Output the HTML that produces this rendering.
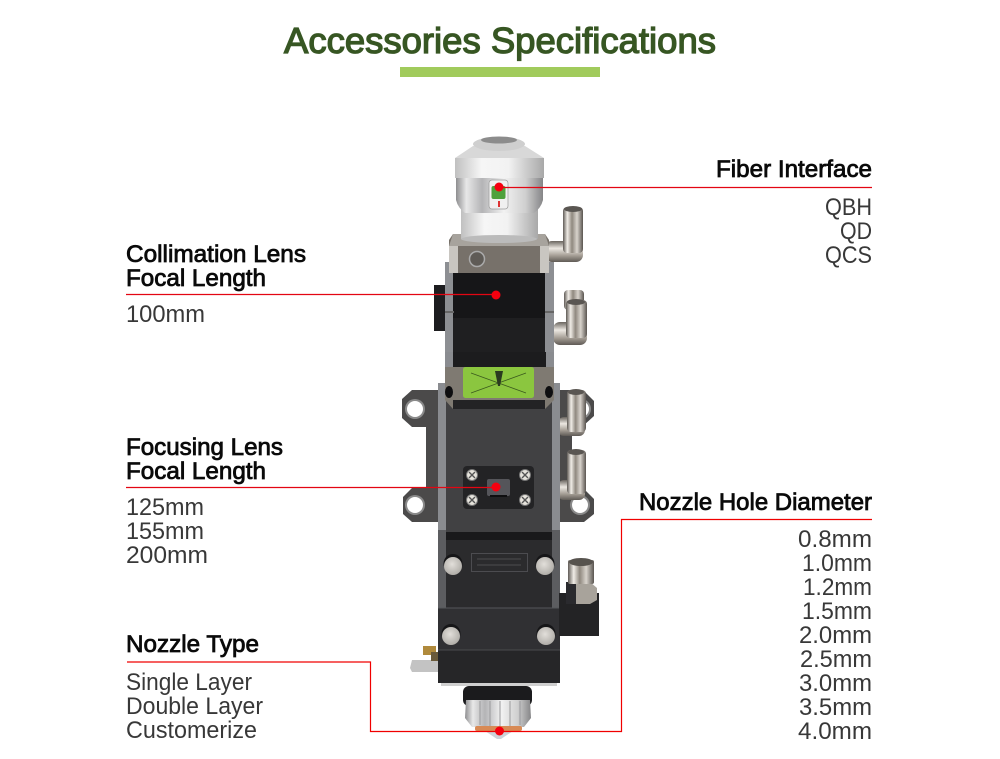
<!DOCTYPE html>
<html lang="en"><head><meta charset="utf-8"><title>Accessories Specifications</title>
<style>
html,body{margin:0;padding:0;background:#fff;width:1000px;height:759px;overflow:hidden}
svg{display:block}
text{font-family:"Liberation Sans",sans-serif}
.t{font-size:36px;fill:#375623;stroke:#375623;stroke-width:1.300px}
.h{font-size:24px;fill:#0a0a0a;stroke:#0a0a0a;stroke-width:.8px}
.b{font-size:24px;fill:#383838}
</style></head><body>
<svg width="1000" height="759" viewBox="0 0 1000 759" xmlns="http://www.w3.org/2000/svg">
<defs>
<linearGradient id="sil" x1="0" x2="1" y1="0" y2="0">
<stop offset="0" stop-color="#8e8e90"/><stop offset=".12" stop-color="#e8e8e8"/><stop offset=".3" stop-color="#b4b4b6"/><stop offset=".55" stop-color="#f2f2f2"/><stop offset=".8" stop-color="#cfcfcf"/><stop offset="1" stop-color="#858587"/></linearGradient>
<linearGradient id="sil2" x1="0" x2="1" y1="0" y2="0">
<stop offset="0" stop-color="#c0c0c0"/><stop offset=".3" stop-color="#f6f6f6"/><stop offset=".6" stop-color="#f2f2f2"/><stop offset="1" stop-color="#a8a8a8"/></linearGradient>
<linearGradient id="chr" x1="0" x2="1" y1="0" y2="0">
<stop offset="0" stop-color="#5f5a55"/><stop offset=".22" stop-color="#f0ece6"/><stop offset=".45" stop-color="#8f887f"/><stop offset=".7" stop-color="#d8d3cc"/><stop offset="1" stop-color="#5a5550"/></linearGradient>
<linearGradient id="chrv" x1="0" x2="0" y1="0" y2="1">
<stop offset="0" stop-color="#6a655f"/><stop offset=".35" stop-color="#ece8e2"/><stop offset=".7" stop-color="#a49d94"/><stop offset="1" stop-color="#5f5a55"/></linearGradient>
<radialGradient id="scr" cx=".45" cy=".4" r=".7"><stop offset="0" stop-color="#e2dfda"/><stop offset="1" stop-color="#a8a5a0"/></radialGradient>
<g id="screw"><circle cx="0" cy="-2.500" r="9.500" fill="#161618"/><circle r="9" fill="url(#scr)"/></g>
<g id="mini"><circle r="5.500" fill="#e6e3dc" stroke="#777" stroke-width="1"/><path d="M-3-3L3 3M3-3L-3 3" stroke="#555" stroke-width="1.400"/></g>
<g id="hole"><circle r="10" fill="#8a8a8a"/><circle r="8" fill="#fff"/></g>
</defs>
<rect width="1000" height="759" fill="#fff"/>

<!-- Title -->
<text class="t" x="284" y="53" textLength="432" lengthAdjust="spacingAndGlyphs">Accessories Specifications</text>
<rect x="400" y="67" width="200" height="10" fill="#a1cb5c"/>

<!-- Brackets -->
<path d="M412 390H440V522H412L403 514V497L412 488H426V427H412L402 418V399Z" fill="#4b4a4a"/>
<path d="M556 390H583L594 401V416L583 426H572V488H583L594 499V514L584 522H556Z" fill="#4b4a4a"/>
<use href="#hole" x="415" y="409"/><use href="#hole" x="415" y="505"/><use href="#hole" x="580" y="505"/><use href="#hole" x="581" y="409"/>

<!-- Fittings right -->
<rect x="545" y="241" width="38" height="21" rx="7" fill="url(#chrv)"/>
<rect x="563" y="207" width="20" height="46" rx="4" fill="url(#chr)"/>
<ellipse cx="573" cy="209" rx="9" ry="3" fill="#5a5652"/>
<rect x="553" y="322" width="34" height="23" rx="7" fill="url(#chrv)"/>
<rect x="564" y="290" width="20" height="20" rx="4" fill="url(#chr)"/>
<rect x="566" y="300" width="21" height="38" rx="4" fill="url(#chr)"/>
<ellipse cx="576" cy="302" rx="9" ry="3" fill="#5a5652"/>
<rect x="558" y="417" width="27" height="19" rx="6" fill="url(#chrv)"/>
<rect x="567" y="390" width="19" height="42" rx="4" fill="url(#chr)"/>
<ellipse cx="576" cy="392" rx="8" ry="3" fill="#5a5652"/>
<rect x="558" y="480" width="27" height="20" rx="6" fill="url(#chrv)"/>
<rect x="567" y="450" width="19" height="44" rx="4" fill="url(#chr)"/>
<ellipse cx="576" cy="452" rx="8" ry="3" fill="#5a5652"/>

<!-- Upper body -->
<rect x="434" y="285" width="14" height="46" fill="#1d1d1f"/>
<rect x="445" y="262" width="109" height="128" fill="#8d8f93"/>
<rect x="453" y="272" width="92" height="96" fill="#161618"/>
<rect x="453" y="318" width="92" height="50" fill="#1f1f21"/>
<rect x="445" y="311" width="9" height="2" fill="#666"/><rect x="545" y="311" width="9" height="2" fill="#666"/>
<!-- Flange -->
<path d="M453 234H545L549 240V268L545 273H453L449 268V240Z" fill="#77716a"/>
<rect x="449" y="246" width="9" height="27" fill="#c9c6c1"/><rect x="540" y="246" width="9" height="27" fill="#c9c6c1"/>
<path d="M453 234H545L549 246H449Z" fill="#a7a39d"/>
<circle cx="477" cy="259" r="7.500" fill="#5f5b56" stroke="#aaa" stroke-width="1.500"/>

<!-- Top silver -->
<rect x="461" y="208" width="77" height="31" fill="url(#sil2)"/>
<ellipse cx="499" cy="239" rx="38" ry="4" fill="#bbb"/>
<path d="M456 176H543V200Q541 208 534 213H465Q458 208 456 200Z" fill="url(#sil)"/>
<rect x="455" y="158" width="89" height="20" fill="url(#sil2)"/>
<path d="M455 158L473 146H525L544 158Z" fill="#d8d8d8"/>
<ellipse cx="499" cy="144" rx="26" ry="7" fill="#cfcfcf"/>
<ellipse cx="499" cy="140" rx="18" ry="3.500" fill="#8c8c8c"/>
<rect x="489" y="180" width="19" height="29" rx="3" fill="#f0f0f0" stroke="#999" stroke-width=".7"/>
<rect x="491.500" y="186" width="14" height="13" rx="2" fill="#4ea13c"/>
<rect x="498" y="201" width="2" height="6" fill="#d33"/>

<!-- Lower body -->
<rect x="438" y="383" width="122" height="300" fill="#8a8c90"/>
<rect x="446" y="395" width="106" height="288" fill="#3c3c3e"/>
<rect x="446" y="395" width="106" height="140" fill="#414143"/>
<rect x="446" y="532" width="106" height="8" fill="#19191b"/>
<rect x="446" y="540" width="106" height="68" fill="#2b2b2d"/>
<rect x="438" y="530" width="8" height="153" fill="#5c5d60"/>
<rect x="552" y="530" width="8" height="153" fill="#5c5d60"/>
<rect x="438" y="608" width="122" height="42" fill="#303033"/>
<rect x="438" y="650" width="122" height="33" fill="#262628"/>
<rect x="438" y="607.500" width="122" height="1" fill="#55565a"/>
<rect x="438" y="649.500" width="122" height="1" fill="#4a4b4e"/>
<rect x="441" y="683" width="116" height="3" fill="#cfcfcf"/>

<!-- Band with green label -->
<path d="M445 367H554V400L545 409H453L445 400Z" fill="#7f7a72"/>
<rect x="453" y="400" width="92" height="9" fill="#232325"/>
<rect x="445" y="352" width="109" height="15" fill="#1c1c1e"/>
<rect x="445" y="352" width="8" height="15" fill="#8a8c90"/><rect x="546" y="352" width="8" height="15" fill="#8a8c90"/>
<rect x="463" y="367" width="71" height="31" rx="2.500" fill="#8bc63f"/>
<path d="M471 393L526 373M471 373L526 393" stroke="#3b5a1e" stroke-width=".8"/>
<path d="M495 371H503L500 386H498Z" fill="#2a3a20"/>
<ellipse cx="449" cy="392" rx="4" ry="6" fill="#0e0e10"/>
<ellipse cx="549" cy="392" rx="4" ry="6" fill="#0e0e10"/>

<!-- Small panel -->
<rect x="463" y="466" width="71" height="43" rx="4" fill="#232325"/>
<use href="#mini" x="472" y="475"/><use href="#mini" x="525" y="475"/><use href="#mini" x="472" y="500"/><use href="#mini" x="525" y="500"/>
<rect x="487" y="479" width="23" height="17" rx="2" fill="#55555a"/>
<rect x="490" y="495" width="17" height="2" fill="#0e0e10"/>

<!-- Engraved plate & screws -->
<rect x="471.500" y="553.500" width="56" height="18" fill="none" stroke="#555559" stroke-width=".8"/>
<path d="M477 559H521M477 565H521" stroke="#58585c" stroke-width=".8"/>
<use href="#screw" x="453" y="566"/><use href="#screw" x="545" y="566"/>
<use href="#screw" x="451" y="636"/><use href="#screw" x="546" y="636"/>

<!-- Side block lower right -->
<rect x="559" y="593" width="40" height="43" fill="#232325"/>
<path d="M566 582H590L597 588V600L590 604H566Z" fill="#a8a39b"/>
<path d="M566 582H576V604H566Z" fill="#2a2a2e"/>
<rect x="568" y="560" width="26" height="24" rx="2" fill="url(#chr)"/>
<ellipse cx="581" cy="562" rx="12" ry="4" fill="#57534e"/>

<!-- Left small tab -->
<path d="M412 660H438V672H412L410 668Z" fill="#c3c3c3"/>
<rect x="423" y="646" width="13" height="9" fill="#b08a3c"/>
<rect x="431" y="652" width="7" height="9" fill="#6a5a3a"/>

<!-- Nozzle -->
<rect x="463" y="686" width="69" height="20" rx="6" fill="#1b1b1d"/>
<path d="M466 700H530L531 718L524 727H472L465 718Z" fill="url(#sil)"/>
<path d="M480 701V725M490 701V726M500 701V726M510 701V726M520 701V725" stroke="#9a9a9c" stroke-width="1"/>
<rect x="475" y="726" width="47" height="5" rx="2" fill="#d88a55"/>
<path d="M485 731H513L501 739H497Z" fill="#cdd2d8"/>

<!-- Leader lines -->
<g fill="none" stroke="#e30613" stroke-width="1.200">
<path d="M499 187.500H872"/>
<path d="M126 294.500H496"/>
<path d="M126 487.500H496"/>
</g>
<path d="M127 662H370.500V731.500H621.500V519.500H872" fill="none" stroke="#f00000" stroke-width="1.200"/>
<g fill="#f5000f">
<circle cx="499" cy="187" r="4.500"/><circle cx="496" cy="295" r="4.500"/><circle cx="496" cy="487" r="4.500"/><circle cx="499.500" cy="731" r="4.500"/>
</g>

<!-- Labels -->
<text class="h" x="716" y="177" textLength="156" lengthAdjust="spacingAndGlyphs">Fiber Interface</text>
<text class="b" x="825" y="215" textLength="47" lengthAdjust="spacingAndGlyphs">QBH</text>
<text class="b" x="840" y="239" textLength="32" lengthAdjust="spacingAndGlyphs">QD</text>
<text class="b" x="825" y="263" textLength="47" lengthAdjust="spacingAndGlyphs">QCS</text>

<text class="h" x="126" y="262" textLength="180" lengthAdjust="spacingAndGlyphs">Collimation Lens</text>
<text class="h" x="126" y="286" textLength="140" lengthAdjust="spacingAndGlyphs">Focal Length</text>
<text class="b" x="126" y="322" textLength="79" lengthAdjust="spacingAndGlyphs">100mm</text>

<text class="h" x="126" y="455" textLength="157" lengthAdjust="spacingAndGlyphs">Focusing Lens</text>
<text class="h" x="126" y="479" textLength="140" lengthAdjust="spacingAndGlyphs">Focal Length</text>
<text class="b" x="126" y="515" textLength="78" lengthAdjust="spacingAndGlyphs">125mm</text>
<text class="b" x="126" y="539" textLength="78" lengthAdjust="spacingAndGlyphs">155mm</text>
<text class="b" x="126" y="563" textLength="82" lengthAdjust="spacingAndGlyphs">200mm</text>

<text class="h" x="126" y="652" textLength="133" lengthAdjust="spacingAndGlyphs">Nozzle Type</text>
<text class="b" x="126" y="690" textLength="126" lengthAdjust="spacingAndGlyphs">Single Layer</text>
<text class="b" x="126" y="714" textLength="137" lengthAdjust="spacingAndGlyphs">Double Layer</text>
<text class="b" x="126" y="738" textLength="131" lengthAdjust="spacingAndGlyphs">Customerize</text>

<text class="h" x="639" y="510" textLength="233" lengthAdjust="spacingAndGlyphs">Nozzle Hole Diameter</text>
<text class="b" x="798" y="547" textLength="74" lengthAdjust="spacingAndGlyphs">0.8mm</text>
<text class="b" x="802" y="571" textLength="70" lengthAdjust="spacingAndGlyphs">1.0mm</text>
<text class="b" x="803" y="595" textLength="69" lengthAdjust="spacingAndGlyphs">1.2mm</text>
<text class="b" x="802" y="619" textLength="70" lengthAdjust="spacingAndGlyphs">1.5mm</text>
<text class="b" x="799" y="643" textLength="73" lengthAdjust="spacingAndGlyphs">2.0mm</text>
<text class="b" x="800" y="667" textLength="72" lengthAdjust="spacingAndGlyphs">2.5mm</text>
<text class="b" x="799" y="691" textLength="73" lengthAdjust="spacingAndGlyphs">3.0mm</text>
<text class="b" x="799" y="715" textLength="73" lengthAdjust="spacingAndGlyphs">3.5mm</text>
<text class="b" x="798" y="739" textLength="74" lengthAdjust="spacingAndGlyphs">4.0mm</text>
</svg>
</body></html>
